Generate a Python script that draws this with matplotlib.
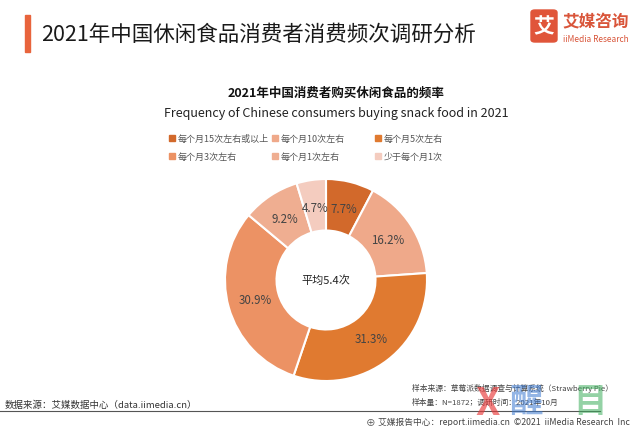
import matplotlib
matplotlib.use("Agg")
import matplotlib.pyplot as plt
from matplotlib.patches import FancyBboxPatch, Rectangle

plt.rcParams['font.family'] = ['Noto Sans CJK SC', 'DejaVu Sans']

categories = ["每个月15次左右或以上", "每个月10次左右", "每个月5次左右",
              "每个月3次左右", "每个月1次左右", "少于每个月1次"]
values = [7.7, 16.2, 31.3, 30.9, 9.2, 4.7]
colors = ["#D2692B", "#EFA98A", "#E07A30", "#EC9264", "#EFAE91", "#F4CCBF"]

main_title = "2021年中国休闲食品消费者消费频次调研分析"
chart_title_cn = "2021年中国消费者购买休闲食品的频率"
chart_title_en = "Frequency of Chinese consumers buying snack food in 2021"
center_text = "平均5.4次"

W, H = 640, 427
fig = plt.figure(figsize=(6.4, 4.27), dpi=100)
fig.patch.set_facecolor("white")

def fx(x): return x / W
def fy(y): return 1 - y / H

# header bar and title
fig.patches.append(Rectangle((fx(25), fy(53)), 5 / W, 37 / H, transform=fig.transFigure,
                             color="#E8643C", zorder=2))
fig.text(fx(41), fy(35), main_title, fontsize=15.5, va="center", ha="left", color="#1a1a1a",
         fontweight="medium")

# logo
fig.patches.append(FancyBboxPatch((fx(531), fy(43)), 26 / W, 32 / H,
                                  boxstyle="round,pad=0,rounding_size=0.006",
                                  transform=fig.transFigure, color="#E0553A", zorder=2))
fig.text(fx(544), fy(27), "艾", fontsize=15, color="white", ha="center", va="center",
         fontweight="bold", zorder=3)
fig.text(fx(562), fy(22), "艾媒咨询", fontsize=12, color="#D9553A", ha="left", va="center",
         fontweight="bold")
fig.text(fx(563), fy(40), "iiMedia Research", fontsize=6, color="#D9553A", ha="left", va="center")

# chart titles
fig.text(fx(336), fy(93), chart_title_cn, fontsize=9, ha="center", va="center",
         color="#111111", fontweight="bold")
fig.text(fx(336), fy(114), chart_title_en, fontsize=9, ha="center", va="center",
         color="#222222")

# legend
leg_x = [172, 275, 378]
leg_y = [139, 157]
for i, (cat, col) in enumerate(zip(categories, colors)):
    r, c = divmod(i, 3)
    x, y = leg_x[c], leg_y[r]
    fig.patches.append(Rectangle((fx(x - 3), fy(y + 3)), 6 / W, 6 / H,
                                 transform=fig.transFigure, color=col))
    fig.text(fx(x + 6), fy(y), cat, fontsize=6.5, ha="left", va="center", color="#555555")

# donut
cx, cy, R = 326, 281, 101
ax = fig.add_axes([fx(cx - R), fy(cy + R), 2 * R / W, 2 * R / H])
wedges, texts, autotexts = ax.pie(values, colors=colors, startangle=90, counterclock=False,
                                  radius=1, autopct=lambda p: f"{p:.1f}%", pctdistance=0.73,
                                  wedgeprops=dict(width=0.51, edgecolor="white", linewidth=1.5),
                                  textprops=dict(fontsize=8.3, color="#444444"))
for t, v in zip(autotexts, values):
    t.set_text(f"{v}%")
ax.set_xlim(-1.0, 1.0)
ax.set_ylim(-1.0, 1.0)
ax.set_aspect("equal")
ax.axis("off")
ax.text(0, 0, center_text, ha="center", va="center", fontsize=8, color="#222222")

# footer
fig.text(fx(5), fy(405), "数据来源：艾媒数据中心（data.iimedia.cn）", fontsize=6.8,
         ha="left", va="center", color="#333333")
fig.text(fx(412), fy(388), "样本来源：草莓派数据调查与计算系统（Strawberry Pie）", fontsize=5.6,
         ha="left", va="center", color="#444444")
fig.text(fx(412), fy(403), "样本量：N=1872；调研时间：2021年10月", fontsize=5.6,
         ha="left", va="center", color="#444444")
fig.lines.append(plt.Line2D([0, fx(600)], [fy(412), fy(412)], transform=fig.transFigure,
                            color="#555555", linewidth=0.8))
fig.text(fx(366), fy(422), "⊕", fontsize=7, ha="left", va="center", color="#555555")
fig.text(fx(378), fy(422), "艾媒报告中心：report.iimedia.cn  ©2021  iiMedia Research  Inc",
         fontsize=6.3, ha="left", va="center", color="#444444")

# watermark overlay
fig.text(fx(488), fy(404), "X", fontsize=28, color="#E83A3A", alpha=0.65, ha="center",
         va="center", fontweight="bold")
fig.text(fx(526), fy(403), "醒", fontsize=24, color="#3A78D0", alpha=0.55, ha="center",
         va="center", fontweight="bold")
fig.text(fx(590), fy(403), "目", fontsize=24, color="#3DAE5C", alpha=0.55, ha="center",
         va="center", fontweight="bold")

fig.savefig("out.png", dpi=100)
